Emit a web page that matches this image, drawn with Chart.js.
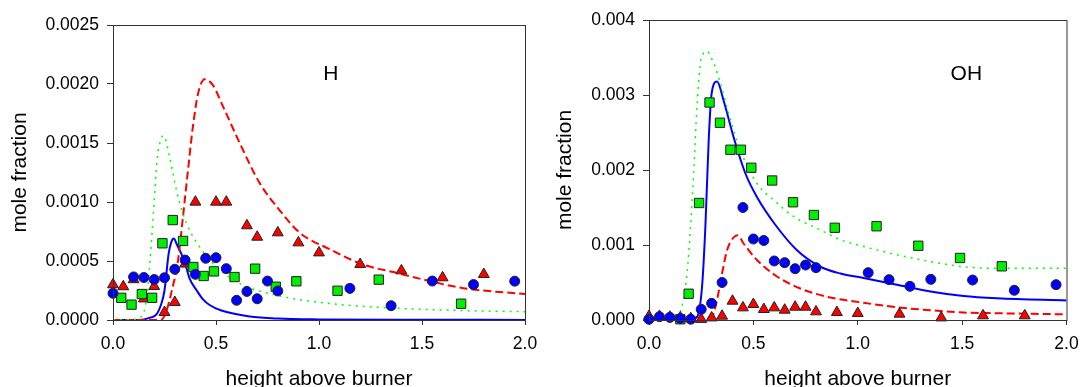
<!DOCTYPE html>
<html>
<head>
<meta charset="utf-8">
<script src="https://cdn.jsdelivr.net/npm/chart.js@4/dist/chart.umd.min.js"></script>
<style>
  html, body { margin: 0; padding: 0; background: #fff; overflow: hidden; }
  .panel { position: absolute; top: 0; }
</style>
</head>
<body>
<div class="panel" style="left:0px"><canvas id="canvasH" width="540" height="400"></canvas></div>
<div class="panel" style="left:540px"><canvas id="canvasOH" width="541" height="400"></canvas></div>
<script>
// x ticks shared by both panels
const xTicks = [0.0, 0.5, 1.0, 1.5, 2.0];
const hYTicks = [0, 0.0005, 0.001, 0.0015, 0.002, 0.0025];
const ohYTicks = [0, 0.001, 0.002, 0.003, 0.004];

// H panel: measured points
const hCircles = [[0,0.000226],[0.1,0.000365],[0.15,0.00036],[0.2,0.000343],[0.25,0.000358],[0.3,0.00043],[0.35,0.000508],[0.4,0.000387],[0.45,0.000523],[0.5,0.000528],[0.55,0.000435],[0.6,0.000167],[0.65,0.000242],[0.7,0.00018],[0.75,0.00033],[0.8,0.000246],[1.15,0.000268],[1.35,0.000121],[1.55,0.00033],[1.75,0.0003],[1.95,0.000329]];
const hSquares = [[0.04,0.000188],[0.09,0.00013],[0.14,0.00022],[0.19,0.000188],[0.24,0.00065],[0.29,0.000847],[0.34,0.00067],[0.39,0.000449],[0.44,0.000373],[0.49,0.000412],[0.59,0.000364],[0.69,0.000435],[0.79,0.000282],[0.89,0.000328],[1.09,0.000248],[1.29,0.000342],[1.69,0.000138]];
const hTriangles = [[0,0.0003],[0.05,0.000283],[0.1,0.000343],[0.15,0.00018],[0.2,0.000285],[0.25,0.000065],[0.3,0.00015],[0.35,0.000475],[0.4,0.001],[0.5,0.001],[0.55,0.001],[0.65,0.0008],[0.7,0.000703],[0.8,0.00074],[0.9,0.000655],[1.0,0.00057],[1.2,0.000472],[1.4,0.000418],[1.6,0.000359],[1.8,0.000387]];

// H panel: model curves
const hBlueLine = [[0,0],[0.1,0],[0.15,0.000005],[0.18,0.00002],[0.21,0.000045],[0.235,0.00014],[0.25,0.00025],[0.27,0.00056],[0.283,0.00066],[0.295,0.00069],[0.31,0.00064],[0.332,0.00056],[0.35,0.00048],[0.372,0.00035],[0.405,0.000254],[0.437,0.000175],[0.469,0.000127],[0.526,0.00008],[0.664,0.00003],[0.8,0.000012],[1.0,0.000005],[1.5,0.000002],[2.0,0.000001]];
const hGreenLine = [[0,0],[0.1,0.000005],[0.138,0.00003],[0.162,0.00017],[0.18,0.00051],[0.198,0.00096],[0.214,0.00136],[0.235,0.00154],[0.246,0.00156],[0.275,0.00138],[0.308,0.0011],[0.34,0.0009],[0.372,0.00076],[0.437,0.00058],[0.502,0.00045],[0.615,0.00031],[0.793,0.00021],[1.05,0.00014],[1.376,0.0001],[1.7,0.00008],[2.0,0.00007]];
const hRedLine = [[0,0],[0.2,0],[0.235,0.000003],[0.26,0.00008],[0.283,0.00023],[0.316,0.00051],[0.34,0.00088],[0.364,0.00127],[0.388,0.00164],[0.413,0.00192],[0.445,0.00204],[0.485,0.00199],[0.534,0.00181],[0.615,0.0015],[0.712,0.00116],[0.809,0.00093],[0.906,0.00074],[1.052,0.0006],[1.214,0.00047],[1.376,0.0004],[1.537,0.00033],[1.699,0.00027],[2.0,0.00022]];

// OH panel: measured points
const ohCircles = [[0,0.00001],[0.05,0.000044],[0.1,0.000035],[0.15,0.00002],[0.2,0.00001],[0.25,0.000142],[0.3,0.000222],[0.35,0.0005],[0.45,0.0015],[0.5,0.00108],[0.55,0.00106],[0.6,0.000787],[0.65,0.000764],[0.7,0.000684],[0.75,0.000733],[0.8,0.000698],[1.05,0.000631],[1.15,0.000538],[1.25,0.000449],[1.35,0.000542],[1.55,0.000533],[1.75,0.000396],[1.95,0.000471]];
const ohSquares = [[0.15,0.00001],[0.19,0.00035],[0.24,0.00156],[0.29,0.0029],[0.34,0.00263],[0.39,0.00227],[0.44,0.00227],[0.49,0.00203],[0.59,0.00186],[0.69,0.00157],[0.79,0.0014],[0.89,0.00123],[1.09,0.00125],[1.29,0.00099],[1.49,0.000827],[1.69,0.000716]];
const ohTriangles = [[0,0.00005],[0.05,0.00005],[0.1,0.00004],[0.15,0.00003],[0.2,0.00002],[0.25,0.00001],[0.3,0.00003],[0.35,0.000053],[0.4,0.000253],[0.45,0.000164],[0.5,0.000209],[0.55,0.000142],[0.6,0.000164],[0.65,0.000133],[0.7,0.000173],[0.75,0.000173],[0.8,0.000111],[0.9,0.000102],[1.0,0.000089],[1.2,0.00008],[1.4,0.00003],[1.6,0.000058],[1.8,0.000058]];

// OH panel: model curves
const ohBlueLine = [[0,0],[0.15,0],[0.2,0.00001],[0.23,0.00004],[0.254,0.00044],[0.27,0.00124],[0.286,0.0024],[0.3,0.00302],[0.326,0.00318],[0.357,0.00293],[0.405,0.00244],[0.461,0.00196],[0.517,0.00164],[0.605,0.00127],[0.709,0.00093],[0.821,0.00071],[0.917,0.00062],[1.028,0.00056],[1.188,0.00047],[1.348,0.00038],[1.507,0.00032],[1.667,0.00029],[2.0,0.00026]];
const ohGreenLine = [[0,0],[0.12,0.00001],[0.158,0.00018],[0.182,0.00062],[0.198,0.0012],[0.214,0.00196],[0.23,0.00284],[0.249,0.00347],[0.278,0.00358],[0.31,0.00342],[0.342,0.00316],[0.39,0.00267],[0.437,0.00227],[0.517,0.00182],[0.597,0.0016],[0.693,0.00138],[0.821,0.0012],[0.917,0.00107],[1.028,0.00098],[1.188,0.00087],[1.348,0.00078],[1.507,0.00071],[1.667,0.00069],[2.0,0.00069]];
const ohRedLine = [[0,0],[0.25,0],[0.302,0.00004],[0.326,0.00027],[0.35,0.00062],[0.374,0.00093],[0.405,0.0011],[0.425,0.00113],[0.453,0.00102],[0.517,0.0008],[0.613,0.00058],[0.725,0.00042],[0.853,0.00031],[1.028,0.00023],[1.188,0.00017],[1.348,0.00013],[1.507,0.0001],[1.667,0.00009],[2.0,0.000076]];

const FONT = "'Liberation Sans', Arial, sans-serif";
const AXIS = "#333";

function pts(arr) {
    return arr.map(function (p) { return { x: p[0], y: p[1] }; });
}

// box around the plot + panel name
const framePlugin = {
    id: "frame",
    afterDraw: function (chart, args, opts) {
        const a = chart.chartArea;
        const ctx = chart.ctx;
        ctx.save();
        ctx.strokeStyle = AXIS;
        ctx.lineWidth = 1;
        ctx.strokeRect(a.left + 0.5, a.top + 0.5, a.right - a.left, a.bottom - a.top);
        ctx.fillStyle = "#000";
        ctx.font = "21px " + FONT;
        ctx.textAlign = "center";
        ctx.textBaseline = "middle";
        ctx.fillText(opts.text, chart.scales.x.getPixelForValue(opts.x), chart.scales.y.getPixelForValue(opts.y));
        ctx.restore();
    },
};

function markers(data, style, color, radius) {
    return {
        type: "scatter",
        data: pts(data),
        pointStyle: style,
        pointRadius: radius,
        pointBackgroundColor: color,
        pointBorderColor: "#222",
        pointBorderWidth: 1,
        showLine: false,
        clip: false,
        order: 1,
    };
}

function curve(data, color, width, dash) {
    return {
        type: "scatter",
        data: pts(data),
        showLine: true,
        borderColor: color,
        borderWidth: width,
        borderDash: dash,
        pointRadius: 0,
        cubicInterpolationMode: "monotone",
        order: 2,
    };
}

function makeConfig(p) {
    return {
        type: "scatter",
        data: {
            datasets: [
                curve(p.green, "#00ff00", 1.5, [2, 5]),
                curve(p.red, "#ff0000", 2, [8, 4]),
                curve(p.blue, "#0000ff", 2, []),
                markers(p.circles, "circle", "#0000ff", 5),
                markers(p.squares, "rect", "#00ee00", 6.6),
                markers(p.triangles, "triangle", "#ff0000", 6.3),
            ],
        },
        options: {
            responsive: false,
            animation: { duration: 0 },
            events: [],
            layout: { padding: { top: p.top, right: p.right, left: 0, bottom: 0 } },
            plugins: {
                legend: { display: false },
                tooltip: { enabled: false },
                frame: { text: p.name, x: p.nameX, y: p.nameY },
            },
            scales: {
                x: {
                    type: "linear",
                    min: 0,
                    max: 2,
                    afterBuildTicks: function (s) { s.ticks = xTicks.map(function (v) { return { value: v }; }); },
                    afterFit: function (s) {
                        s.height = 80;
                        // let the layout padding decide the plot edges
                        s.paddingLeft = 0;
                        s.paddingRight = 0;
                    },
                    ticks: {
                        color: "#000",
                        font: { family: FONT, size: 17.5 },
                        padding: 9,
                        maxRotation: 0,
                        callback: function (v) { return v.toFixed(1); },
                    },
                    grid: { drawOnChartArea: false, drawTicks: true, tickLength: 5, color: AXIS },
                    border: { display: true, color: AXIS },
                    title: {
                        display: true,
                        text: "height above burner",
                        color: "#000",
                        font: { family: FONT, size: 21 },
                        padding: { top: 0, bottom: 8 },
                    },
                },
                y: {
                    type: "linear",
                    min: 0,
                    max: p.yMax,
                    afterBuildTicks: function (s) { s.ticks = p.yTicks.map(function (v) { return { value: v }; }); },
                    afterFit: function (s) {
                        s.width = p.yWidth;
                        s.paddingTop = 0;
                        s.paddingBottom = 0;
                    },
                    ticks: {
                        color: "#000",
                        font: { family: FONT, size: 17.5 },
                        padding: 8,
                        callback: function (v) { return v.toFixed(p.digits); },
                    },
                    grid: { drawOnChartArea: false, drawTicks: true, tickLength: 6, color: AXIS },
                    border: { display: true, color: AXIS },
                    title: {
                        display: true,
                        text: "mole fraction",
                        color: "#000",
                        font: { family: FONT, size: 21 },
                        padding: { top: p.titlePad, bottom: 0 },
                    },
                },
            },
        },
        plugins: [framePlugin],
    };
}

function initGraphs() {
    new Chart(document.getElementById("canvasH"), makeConfig({
        name: "H", nameX: 1.057, nameY: 0.002085,
        circles: hCircles, squares: hSquares, triangles: hTriangles,
        blue: hBlueLine, green: hGreenLine, red: hRedLine,
        yMax: 0.0025, yTicks: hYTicks, digits: 4,
        top: 25, right: 15, yWidth: 113, titlePad: 8,
    }));
    new Chart(document.getElementById("canvasOH"), makeConfig({
        name: "OH", nameX: 1.52, nameY: 0.00328,
        circles: ohCircles, squares: ohSquares, triangles: ohTriangles,
        blue: ohBlueLine, green: ohGreenLine, red: ohRedLine,
        yMax: 0.004, yTicks: ohYTicks, digits: 3,
        top: 20, right: 14.5, yWidth: 109, titlePad: 13,
    }));
}

initGraphs();
</script>
</body>
</html>
